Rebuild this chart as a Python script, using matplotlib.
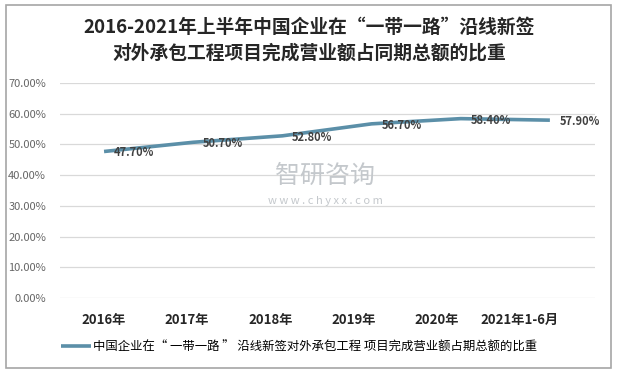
import matplotlib
matplotlib.use('Agg')
import matplotlib.pyplot as plt
from matplotlib.patches import Rectangle

plt.rcParams['font.family'] = ['Noto Sans CJK SC', 'DejaVu Sans']

# data
categories = ['2016年', '2017年', '2018年', '2019年', '2020年', '2021年1-6月']
shares = [47.7, 50.7, 52.8, 56.7, 58.4, 57.9]
value_labels = ['47.70%', '50.70%', '52.80%', '56.70%', '58.40%', '57.90%']
y_ticks = [0, 10, 20, 30, 40, 50, 60, 70]
title = '2016-2021年上半年中国企业在“一带一路”沿线新签\n对外承包工程项目完成营业额占同期总额的比重'
series_name = '中国企业在“ 一带一路 ” 沿线新签对外承包工程 项目完成营业额占期总额的比重'

line_color = '#5b8fa8'

fig = plt.figure(figsize=(6.18, 3.74), dpi=100)
fig.patches.append(Rectangle((6 / 618, 6 / 374), 605 / 618, 363 / 374,
                             transform=fig.transFigure, fill=False,
                             edgecolor='#a6a6a6', linewidth=1.2))

ax = fig.add_axes([60 / 618, 76 / 374, 535 / 618, 215 / 374])

x = list(range(len(categories)))
ax.plot(x, shares, color=line_color, linewidth=2.6, solid_capstyle='butt',
        solid_joinstyle='round', label=series_name, zorder=3)

for xi, yi, lab in zip(x, shares, value_labels):
    ax.annotate(lab, (xi, yi), xytext=(7, -1), textcoords='offset points',
                ha='left', va='center', fontsize=8, fontweight='bold',
                color='#404040', zorder=4)

ax.set_xlim(-0.494, 5.506)
ax.set_ylim(0, 70)
ax.set_yticks(y_ticks)
ax.set_yticklabels([f'{v:.2f}%' for v in y_ticks], fontsize=8, color='#666666')
ax.yaxis.grid(True, color='#d9d9d9', linewidth=0.9)
ax.set_axisbelow(True)

# category labels sit a little tighter than the points in the source
ax.set_xticks([i * 83 / 89 for i in x])
ax.set_xticklabels(categories, fontsize=9.5, fontweight='bold', color='#262626')
ax.tick_params(axis='both', length=0)
ax.tick_params(axis='x', pad=11)
ax.tick_params(axis='y', pad=10)
for s in ax.spines.values():
    s.set_visible(False)

fig.text(0.5, 1 - 40 / 374, title, ha='center', va='center',
         fontsize=13.5, fontweight='bold', color='#262626', linespacing=1.45)

# watermark
fig.text(325 / 618, 1 - 176 / 374, '智研咨询', ha='center', va='center',
         fontsize=18, color='#c4c8cc', zorder=0)
fig.text(325 / 618, 1 - 201 / 374, 'w w w . c h y x x . c o m', ha='center',
         va='center', fontsize=8, color='#c4c8cc', zorder=0)

fig.legend(loc='center left', bbox_to_anchor=(56 / 618, 1 - 347 / 374),
           frameon=False, fontsize=8.9, handlelength=2.4, handletextpad=0.2,
           borderaxespad=0)

fig.savefig('out.png', dpi=100)
